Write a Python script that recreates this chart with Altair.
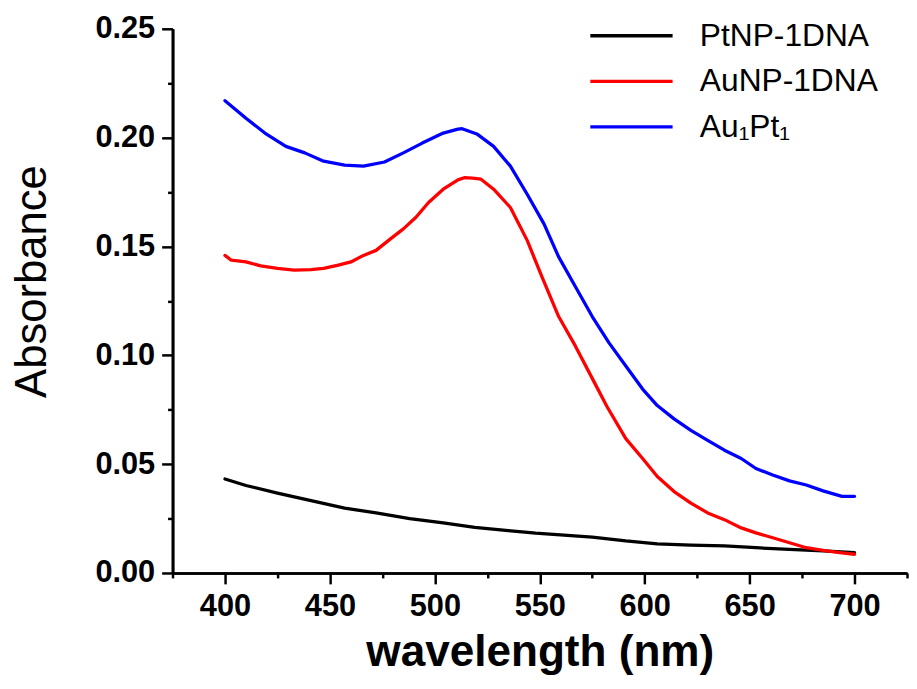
import altair as alt
import pandas as pd

# ---- data ----
series_names = ["PtNP-1DNA", "AuNP-1DNA", "Au\u2081Pt\u2081"]
series_colors = ["#000000", "#ff0000", "#0000ff"]

pt_nm = [400, 410, 425, 441, 457, 472, 488, 504, 519, 535, 548, 575, 591, 606,
         622, 638, 653, 669, 685, 700]
pt_abs = [0.0432, 0.0402, 0.0367, 0.0332, 0.0298, 0.0276, 0.0250, 0.0230, 0.0210,
          0.0195, 0.0183, 0.0165, 0.0147, 0.0134, 0.0128, 0.0124, 0.0116, 0.0108,
          0.0101, 0.0093]

au_nm = [400, 403, 410, 417, 425, 433, 441, 447, 454, 460, 466, 472, 479, 485,
         491, 497, 504, 511, 514, 518, 522, 528, 536, 544, 551, 559, 567, 575,
         582, 591, 599, 606, 614, 622, 630, 638, 646, 653, 661, 669, 677, 685,
         693, 700]
au_abs = [0.1459, 0.1437, 0.1429, 0.1411, 0.1399, 0.1391, 0.1394, 0.1399, 0.1414,
          0.1429, 0.1459, 0.1482, 0.1536, 0.1581, 0.1634, 0.1702, 0.1763, 0.1806,
          0.1816, 0.1814, 0.1809, 0.1763, 0.1679, 0.1528, 0.1361, 0.1178, 0.1042,
          0.0894, 0.0765, 0.0617, 0.0526, 0.0443, 0.0374, 0.0321, 0.0276, 0.0245,
          0.0207, 0.0184, 0.0162, 0.0139, 0.0116, 0.0104, 0.0093, 0.0086]

aupt_nm = [400, 410, 419, 429, 438, 447, 457, 466, 476, 485, 494, 504, 511, 513,
           520, 528, 536, 544, 552, 559, 567, 575, 583, 591, 599, 606, 614, 622,
           630, 638, 646, 653, 661, 669, 677, 685, 694, 700]
aupt_abs = [0.2170, 0.2089, 0.2021, 0.1960, 0.1930, 0.1892, 0.1874, 0.1869, 0.1888,
            0.1930, 0.1975, 0.2021, 0.2039, 0.2041, 0.2017, 0.1960, 0.1869, 0.1740,
            0.1604, 0.1452, 0.1315, 0.1178, 0.1057, 0.0951, 0.0845, 0.0769, 0.0708,
            0.0655, 0.0609, 0.0564, 0.0526, 0.0480, 0.0450, 0.0423, 0.0404, 0.0377,
            0.0352, 0.0352]

x_major = [400, 450, 500, 550, 600, 650, 700]
x_minor = [375, 425, 475, 525, 575, 625, 675, 725]
y_major = [0.0, 0.05, 0.10, 0.15, 0.20, 0.25]
y_minor = [0.025, 0.075, 0.125, 0.175, 0.225]

rows = []
for name, xs, ys in zip(series_names, [pt_nm, au_nm, aupt_nm], [pt_abs, au_abs, aupt_abs]):
    for x, y in zip(xs, ys):
        rows.append({"series": name, "nm": x, "A": y})
df = pd.DataFrame(rows)

FONT = "Liberation Sans"
x_scale = alt.Scale(domain=[375, 725], nice=False, zero=False)
y_scale = alt.Scale(domain=[0, 0.25], nice=False, zero=False)

common_axis = dict(
    domainColor="black", domainWidth=2.7, tickColor="black", tickWidth=2.5,
    grid=False, labelFont=FONT, labelFontWeight="bold", labelFontSize=31,
    labelColor="black", labelFlush=False, labelOverlap=False,
)
minor_axis = {k: v for k, v in common_axis.items() if not k.startswith("label")}

main = alt.Chart(df).mark_line(strokeWidth=3.3, strokeCap="round", strokeJoin="round").encode(
    x=alt.X("nm:Q", scale=x_scale, axis=alt.Axis(
        orient="bottom", values=x_major, format="d", tickSize=11, labelPadding=8,
        title="wavelength (nm)", titleFont=FONT, titleFontSize=44.5, titleFontWeight="bold",
        titleColor="black", titleX=370.5, titleY=93, titleBaseline="alphabetic",
        titleAlign="center", **common_axis)),
    y=alt.Y("A:Q", scale=y_scale, axis=alt.Axis(
        orient="left", values=y_major, format=".2f", tickSize=11, labelPadding=7,
        title="Absorbance", titleFont=FONT, titleFontSize=44, titleFontWeight="normal",
        titleColor="black", titleAngle=270, titleX=-128, titleY=254.5,
        titleBaseline="alphabetic", titleAlign="center", **common_axis)),
    color=alt.Color("series:N",
                    scale=alt.Scale(domain=series_names, range=series_colors),
                    legend=alt.Legend(
                        orient="none", legendX=419.5, legendY=-8, title="",
                        symbolType="stroke", symbolSize=6889, symbolStrokeWidth=3.3,
                        clipHeight=30, rowPadding=14, labelFont=FONT, labelFontSize=32,
                        labelColor="black", labelOffset=25.5, labelLimit=400,
                        padding=0)),
)

minor = alt.Chart(df).mark_line(opacity=0).encode(
    x=alt.X("nm:Q", scale=x_scale, axis=alt.Axis(
        orient="bottom", values=x_minor, labels=False, tickSize=5, title="",
        **minor_axis)),
    y=alt.Y("A:Q", scale=y_scale, axis=alt.Axis(
        orient="left", values=y_minor, labels=False, tickSize=5, title="",
        **minor_axis)),
    detail="series:N",
)

chart = (
    alt.layer(main, minor)
    .resolve_axis(x="independent", y="independent")
    .properties(
        width=741, height=549,
        padding={"left": 166, "top": 18, "right": 2, "bottom": 106},
        autosize=alt.AutoSizeParams(type="none"),
    )
    .configure_view(strokeWidth=0)
)

chart.save("out.html", embed_options={"renderer": "svg", "actions": False})
